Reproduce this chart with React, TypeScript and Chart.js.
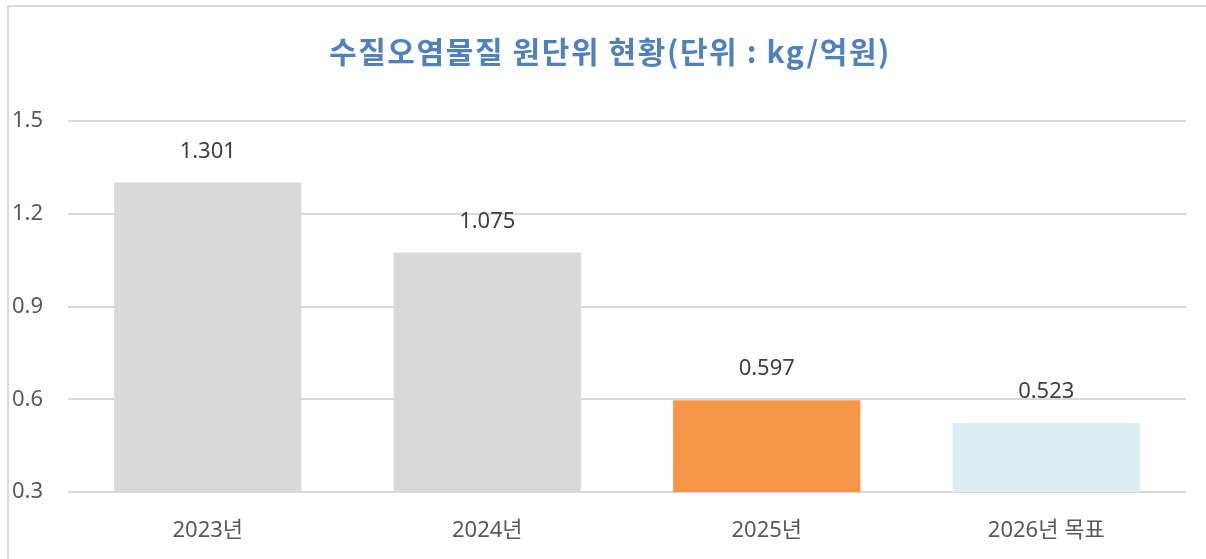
import React, { useEffect, useRef } from "react";
import { Chart, registerables } from "chart.js";

Chart.register(...registerables);

const TITLE = "수질오염물질 원단위 현황(단위 : kg/억원)";
const categories = ["2023년", "2024년", "2025년", "2026년 목표"];
const values = [1.301, 1.075, 0.597, 0.523];
const valueLabels = ["1.301", "1.075", "0.597", "0.523"];
const barColors = ["#d9d9d9", "#d9d9d9", "#f79646", "#dbeef3"];
const yMin = 0.3;
const yMax = 1.5;
const yStep = 0.3;

const FONT = '"Noto Sans", "Noto Sans CJK KR", sans-serif';

export default function App() {
  const ref = useRef<HTMLCanvasElement | null>(null);

  useEffect(() => {
    const canvas = ref.current;
    if (!canvas) return;

    const titlePlugin = {
      id: "customTitle",
      afterDraw(chart: any) {
        const ctx = chart.ctx;
        ctx.save();
        ctx.font = `bold 30px "Noto Sans CJK KR", ${FONT}`;
        (ctx as any).letterSpacing = "1.6px";
        ctx.fillStyle = "#4f81bd";
        ctx.textAlign = "center";
        ctx.textBaseline = "middle";
        ctx.fillText(TITLE, 610, 52);
        ctx.restore();
      },
    };

    const labelPlugin = {
      id: "valueLabels",
      afterDatasetsDraw(chart: any) {
        const ctx = chart.ctx;
        const meta = chart.getDatasetMeta(0);
        ctx.save();
        ctx.font = `22px ${FONT}`;
        ctx.fillStyle = "#404040";
        ctx.textAlign = "center";
        ctx.textBaseline = "middle";
        meta.data.forEach((bar: any, i: number) => {
          ctx.fillText(valueLabels[i], bar.x, bar.y - 31);
        });
        ctx.restore();
      },
    };

    const chart = new Chart(canvas, {
      type: "bar",
      data: {
        labels: categories,
        datasets: [
          {
            data: values,
            backgroundColor: barColors,
            borderWidth: 0,
            barPercentage: 0.67,
            categoryPercentage: 1,
          },
        ],
      },
      options: {
        responsive: false,
        animation: false,
        layout: { padding: { left: 12, top: 121, right: 20, bottom: 0 } },
        plugins: {
          legend: { display: false },
          title: { display: false },
          tooltip: { enabled: false },
        },
        scales: {
          x: {
            grid: { display: false, drawTicks: false },
            border: { display: false },
            ticks: {
              padding: 26,
              color: "#595959",
              font: { family: FONT, size: 22 },
            },
            afterFit(scale: any) {
              scale.height = 67;
            },
          },
          y: {
            min: yMin,
            max: yMax,
            grid: { color: "#d9d9d9", lineWidth: 2, drawTicks: false },
            border: { display: false },
            ticks: {
              stepSize: yStep,
              crossAlign: "far",
              color: "#595959",
              font: { family: FONT, size: 22 },
              callback: (v: any) => Number(v).toFixed(1),
            },
            afterFit(scale: any) {
              scale.width = 56;
            },
          },
        },
      },
      plugins: [titlePlugin, labelPlugin],
    });

    return () => chart.destroy();
  }, []);

  return (
    <div
      style={{
        position: "fixed",
        left: 0,
        top: 0,
        width: 1206,
        height: 559,
        overflow: "hidden",
        background: "#ffffff",
      }}
    >
      <div
        style={{
          position: "absolute",
          left: 7,
          top: 5,
          width: 1300,
          height: 700,
          border: "2px solid #d9d9d9",
          boxSizing: "border-box",
        }}
      />
      <canvas
        ref={ref}
        width={1206}
        height={559}
        style={{ position: "absolute", left: 0, top: 0, width: 1206, height: 559 }}
      />
    </div>
  );
}
